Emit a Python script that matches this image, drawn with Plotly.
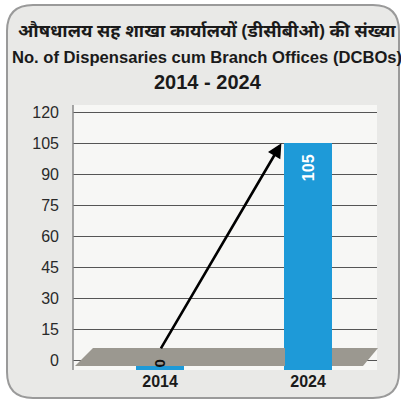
import plotly.graph_objects as go

# ---- data ----
categories = ["2014", "2024"]
values = [0, 105]
y_ticks = [0, 15, 30, 45, 60, 75, 90, 105, 120]
title_hi = "औषधालय सह शाखा कार्यालयों (डीसीबीओ) की संख्या"
title_en = "No. of Dispensaries cum Branch Offices (DCBOs)"
title_yr = "2014 - 2024"

W, H = 401, 401
ML, MR, MT, MB = 73, 24, 105, 31
PW, PH = W - ML - MR, H - MT - MB
BAR_W = 0.32
Y_MIN, Y_MAX = -4.5, 123.5
X_MIN, X_MAX = -0.588, 1.466

def px(x):
    return (x - ML) / PW

def py(y):
    return (H - MB - y) / PH

BLUE = "#1e9ad8"
FLOOR = "#9b9890"
FONT = "Liberation Sans, Arial, sans-serif"

fig = go.Figure()
fig.add_trace(go.Bar(
    x=categories, y=[v - Y_MIN for v in values], base=Y_MIN,
    width=BAR_W, marker=dict(color=BLUE, line=dict(width=0)),
    hoverinfo="skip", showlegend=False,
))

shapes = []
# outer rounded frame
r = 26
x0, x1, y0, y1 = 7, 399, 5, 398
path = (f"M {px(x0+r)},{py(y0)} L {px(x1-r)},{py(y0)} "
        f"Q {px(x1)},{py(y0)} {px(x1)},{py(y0+r)} L {px(x1)},{py(y1-r)} "
        f"Q {px(x1)},{py(y1)} {px(x1-r)},{py(y1)} L {px(x0+r)},{py(y1)} "
        f"Q {px(x0)},{py(y1)} {px(x0)},{py(y1-r)} L {px(x0)},{py(y0+r)} "
        f"Q {px(x0)},{py(y0)} {px(x0+r)},{py(y0)} Z")
shapes.append(dict(type="path", xref="paper", yref="paper", path=path,
                   fillcolor="#e9e9e7", line=dict(color="#9a9a9a", width=2), layer="below"))
# plot area background
shapes.append(dict(type="rect", xref="paper", yref="paper", x0=0, x1=1, y0=0, y1=1,
                   fillcolor="#f7f7f5", line=dict(width=0), layer="below"))
# floor (drawn above bars, split around the 2024 bar)
bar_l = 285
bar_r = 332
ftop, fbot = 348, 366
left_floor = (f"M {px(75)},{py(fbot)} L {px(93)},{py(ftop)} L {px(bar_l)},{py(ftop)} "
              f"L {px(bar_l)},{py(fbot)} Z")
right_floor = (f"M {px(bar_r)},{py(fbot)} L {px(bar_r)},{py(ftop)} L {px(378)},{py(ftop)} "
               f"L {px(363)},{py(fbot)} Z")
for p in (left_floor, right_floor):
    shapes.append(dict(type="path", xref="paper", yref="paper", path=p,
                       fillcolor=FLOOR, line=dict(width=0), layer="above"))
# y axis line
shapes.append(dict(type="line", xref="paper", yref="paper", x0=0, x1=0, y0=0, y1=1,
                   line=dict(color="#8a8a8a", width=1.5), layer="above"))

annotations = []
annotations.append(dict(text=f"<b>{title_hi}</b>", xref="paper", yref="paper",
                        x=px(207), y=py(30), xanchor="center", yanchor="middle", showarrow=False,
                        font=dict(family="Noto Sans, DejaVu Sans, sans-serif", size=18, color="#1a1a1a")))
annotations.append(dict(text=f"<b>{title_en}</b>", xref="paper", yref="paper",
                        x=px(207), y=py(57), xanchor="center", yanchor="middle", showarrow=False,
                        font=dict(family=FONT, size=16.6, color="#1a1a1a")))
annotations.append(dict(text=f"<b>{title_yr}</b>", xref="paper", yref="paper",
                        x=px(208), y=py(82), xanchor="center", yanchor="middle", showarrow=False,
                        font=dict(family=FONT, size=20, color="#1a1a1a")))
# value labels
for i, v in enumerate(values):
    if v > 20:
        annotations.append(dict(text=f"<b>{v}</b>", x=i, y=v - 12, xref="x", yref="y",
                                showarrow=False, textangle=-90,
                                font=dict(family=FONT, size=16, color="white")))
    else:
        annotations.append(dict(text=f"<b>{v}</b>", x=i, y=v - 1.4, xref="x", yref="y",
                                showarrow=False, textangle=-90,
                                font=dict(family=FONT, size=15, color="#111")))
# growth arrow
annotations.append(dict(x=1 - BAR_W / 2 - 0.02, y=values[1], ax=0, ay=values[0] + 5.2,
                        xref="x", yref="y", axref="x", ayref="y", text="",
                        showarrow=True, arrowhead=2, arrowsize=1.1, arrowwidth=2.6,
                        arrowcolor="#000", standoff=0, startstandoff=0))

fig.update_layout(
    width=W, height=H,
    margin=dict(l=ML, r=MR, t=MT, b=MB, pad=0),
    paper_bgcolor="white", plot_bgcolor="rgba(0,0,0,0)",
    shapes=shapes, annotations=annotations,
    bargap=0,
    xaxis=dict(type="category", range=[X_MIN, X_MAX], showgrid=False, zeroline=False,
               showline=False, ticks="", ticklen=0,
               tickfont=dict(family=FONT, size=16, color="#1a1a1a"),
               tickprefix="<b>", ticksuffix="</b>"),
    yaxis=dict(range=[Y_MIN, Y_MAX], tickvals=y_ticks, showgrid=True, gridcolor="#555555",
               gridwidth=1.3, zeroline=False, showline=False, ticks="",
               ticklabelstandoff=13,
               tickfont=dict(family=FONT, size=16, color="#2a2a2a"),
               tickprefix="<b>", ticksuffix="</b>"),
    font=dict(family=FONT),
)

fig.write_html("out.html", config={"displayModeBar": False},
               post_script="document.body.style.margin='0';document.body.style.overflow='hidden';")
